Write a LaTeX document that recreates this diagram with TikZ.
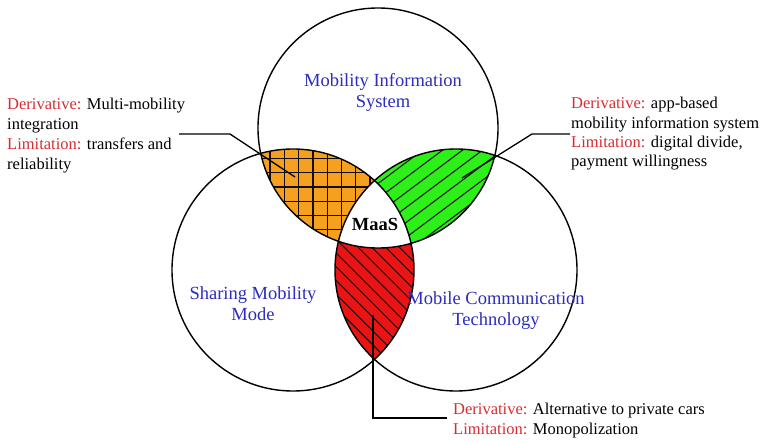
\documentclass[tikz,border=0pt]{standalone}
\usepackage{fontspec}
\setmainfont{Liberation Serif}
\definecolor{lblue}{RGB}{45,45,190}
\definecolor{lred}{RGB}{215,45,50}
\definecolor{forange}{RGB}{245,160,30}
\definecolor{fgreen}{RGB}{45,240,25}
\definecolor{fred}{RGB}{235,20,20}
\begin{document}
\begin{tikzpicture}[x=1pt,y=1pt,
  ring/.style={draw=black,line width=1.4pt},
  hatch/.style={draw=black!90,line width=1.1pt},
  gridline/.style={draw=black!90!brown,line width=1.3pt},
  circlabel/.style={text=lblue,align=center,font=\fontsize{18.5}{21}\selectfont},
  note/.style={align=left,text=black,inner sep=0pt},
  leader/.style={draw=black,line width=1.3pt}]
\useasboundingbox (0,0) rectangle (765,442);
\fill[white] (0,0) rectangle (765,442);
\coordinate (cT) at (378,314);
\coordinate (cL) at (293,172);
\coordinate (cR) at (456,172);
% orange lens (top & left)
\begin{scope}
  \clip (cT) circle[radius=120];
  \clip (cL) circle[radius=121];
  \fill[forange] (150,60) rectangle (600,440);
  \foreach \k in {-8,...,14} {
    \draw[gridline] ({270+14.3*\k},60) -- ++(0,380);
    \draw[gridline] (150,{283.7-14.3*\k}) -- ++(450,0);
  }
\end{scope}
% green lens (top & right)
\begin{scope}
  \clip (cT) circle[radius=120];
  \clip (cR) circle[radius=121];
  \fill[fgreen] (150,60) rectangle (600,440);
  \foreach \k in {-14,...,14} {
    \draw[hatch] (300,{230-75+15*\k}) -- (560,{230+120+15*\k});
  }
\end{scope}
% red lens (left & right)
\begin{scope}
  \clip (cL) circle[radius=121];
  \clip (cR) circle[radius=121];
  \fill[fred] (150,40) rectangle (600,440);
  \foreach \k in {-14,...,22} {
    \draw[hatch] (320,{150+13.8*\k}) -- (440,{30+13.8*\k});
  }
\end{scope}
% MaaS centre
\begin{scope}
  \clip (cT) circle[radius=120];
  \clip (cL) circle[radius=121];
  \fill[white] (cR) circle[radius=121];
\end{scope}
% circles
\draw[ring] (cT) circle[radius=120];
\draw[ring] (cL) circle[radius=121];
\draw[ring] (cR) circle[radius=121];
% circle labels
\node[circlabel] (lblT) at (383,350) {Mobility Information\\System};
\node[circlabel] (lblL) at (253,138) {Sharing Mobility\\Mode};
\node[circlabel] (lblR) at (496,131.5) {Mobile Communication\\Technology};
\node[font=\fontsize{18.5}{21}\selectfont\bfseries] (maas) at (375,218) {MaaS};
% notes
\node[note,anchor=west,font=\fontsize{16.5}{20}\selectfont] (noteL) at (7,306)
  {\textcolor{lred}{Derivative:} Multi-mobility\\integration\\\textcolor{lred}{Limitation:} transfers and\\reliability};
\node[note,anchor=west,font=\fontsize{16.5}{19.3}\selectfont] (noteR) at (571,308)
  {\textcolor{lred}{Derivative:} app-based\\mobility information system\\\textcolor{lred}{Limitation:} digital divide,\\payment willingness};
\node[note,anchor=west,font=\fontsize{16.5}{20}\selectfont] (noteB) at (453,21)
  {\textcolor{lred}{Derivative:} Alternative to private cars\\\textcolor{lred}{Limitation:} Monopolization};
% leaders
\coordinate (aL1) at (179,308);
\coordinate (aL2) at (230,308);
\coordinate (aL3) at (295,265);
\coordinate (aR1) at (570,308);
\coordinate (aR2) at (532,308);
\coordinate (aR3) at (462,264);
\coordinate (aB1) at (447,24);
\coordinate (aB2) at (373,24);
\coordinate (aB3) at (373,127);
\draw[leader] (aL1) -- (aL2) -- (aL3);
\draw[leader] (aR1) -- (aR2) -- (aR3);
\draw[leader] (aB1) -- (aB2) -- (aB3);
\end{tikzpicture}
\end{document}
